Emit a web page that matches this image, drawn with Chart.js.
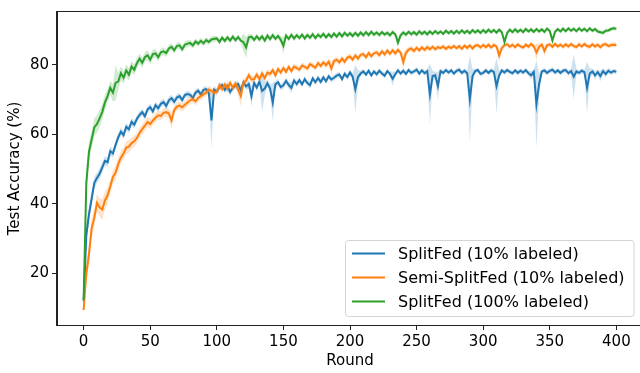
<!DOCTYPE html>
<html>
<head>
<meta charset="utf-8">
<script src="https://cdn.jsdelivr.net/npm/chart.js@4"></script>
<style>
  body { margin: 0; background: #fff; }
  #wrap { width: 640px; height: 373px; overflow: hidden; position: relative; }
</style>
</head>
<body>
<div id="wrap"><canvas id="accChart" width="648" height="373"></canvas></div>
<script>
// rounds sampled every 2
var rounds = [];
for (i = 0; i <= 400; i += 2) {
  rounds.push(i);
}

const xTicks = [0, 50, 100, 150, 200, 250, 300, 350, 400];
const yTicks = [20, 40, 60, 80];

const seriesNames = ["SplitFed (10% labeled)", "Semi-SplitFed (10% labeled)", "SplitFed (100% labeled)"];

// SplitFed (10% labeled) mean accuracy
const splitFed10 = [
  12, 31, 37, 41.5, 46, 47.5, 48.7, 50.5, 52.4, 52,
  55.2, 54.5, 57, 59.2, 60.8, 59.8, 62.2, 61.5, 63.6, 62.8,
  64.5, 65.6, 66.4, 65.2, 67.2, 67.8, 66.6, 68.4, 67.5, 68.8,
  69.3, 68.2, 69.8, 70.4, 69.4, 70.6, 71, 69.9, 71.3, 71.6,
  71.4, 70.5, 72, 72.6, 71.5, 72.8, 73, 71.9, 64, 72.9,
  72.3, 73.6, 74.2, 72.8, 73.9, 72.2, 73.4, 74, 74.5, 72.6,
  75, 73.8, 74.5, 71, 74.8, 73.5, 75.2, 72.5, 73.2, 74.7,
  73.2, 69.2, 74.4, 75, 73.6, 74.1, 75.4, 74.2, 73.4, 75.5,
  74.5, 75.6, 74.4, 75.9, 74.8, 74.2, 76.1, 75, 76.2, 75.1,
  76.4, 75.3, 76.7, 75.8, 76.3, 76.9, 77.2, 75.9, 77.4, 76.5,
  77.8, 76.6, 73, 76.5, 77.5, 78.1, 77.2, 78.3, 77, 78.1,
  77.3, 78.3, 77.5, 76.9, 78.2, 77.4, 76, 77.3, 78.4, 77.5,
  78.3, 77.4, 78.5, 77.7, 78.1, 78.6, 77.5, 78.4, 77.6, 78.2,
  71.5, 76.8, 77, 73.9, 78.2, 77.7, 78.5, 77.8, 78.4, 77.5,
  78.3, 78.6, 77.7, 78.3, 77.6, 70.1, 76.8, 78.2, 78.5, 77.4,
  77.7, 78.4, 77.7, 78.4, 78, 73.9, 77, 78.4, 77.8, 78.5,
  78, 77.6, 78.4, 77.7, 78.3, 77.8, 78.5, 77.6, 77, 78,
  68.7, 74.5, 78.1, 78.4, 77.7, 78.3, 78.6, 77.8, 78.4, 77.7,
  78.3, 78.5, 77.6, 78.2, 76.6, 78.1, 77.7, 78.3, 77.9, 73.4,
  77.5, 78.1, 77, 77.9, 76.8, 78.2, 77.4, 78.3, 77.8, 78.2,
  78
];
const splitFed10Std = [
  1.5, 2.5, 2, 2, 1.8, 1.5, 1.5, 1.5, 1.3, 1.3,
  1.3, 1.2, 1.2, 1.2, 1.2, 1.2, 1.1, 1.1, 1.1, 1.1,
  1, 1, 1, 1, 1, 1, 1, 1, 1, 1,
  1, 1, 1, 1, 1, 1, 0.9, 0.9, 0.9, 0.9,
  0.9, 0.9, 0.9, 0.9, 0.9, 0.9, 0.9, 0.9, 8, 1,
  1, 1, 0.9, 0.9, 1.5, 1, 0.9, 1, 0.9, 1.5,
  0.9, 1, 1.2, 3, 1, 1, 0.9, 6, 2, 1,
  1.2, 5.5, 1, 0.9, 0.9, 1, 0.9, 1, 1.5, 0.9,
  0.9, 0.8, 0.8, 0.8, 0.8, 1, 0.8, 0.8, 0.8, 0.8,
  0.8, 0.8, 0.8, 0.8, 0.8, 0.8, 0.8, 0.8, 0.8, 0.8,
  0.8, 1, 7, 2, 0.8, 0.7, 0.7, 0.7, 0.7, 0.7,
  0.7, 0.7, 0.7, 0.8, 0.7, 0.7, 2, 0.8, 0.7, 0.7,
  0.7, 0.7, 0.7, 0.7, 0.7, 0.7, 0.7, 0.7, 0.7, 0.7,
  8.8, 1.5, 1, 4, 0.8, 0.7, 0.7, 0.7, 0.7, 0.7,
  0.7, 0.7, 0.7, 0.7, 0.8, 12.5, 2, 0.7, 0.7, 0.7,
  0.7, 0.7, 0.7, 0.7, 0.7, 8, 1.5, 0.7, 0.7, 0.7,
  0.7, 0.7, 0.7, 0.7, 0.7, 0.7, 0.7, 0.7, 1.2, 0.7,
  12.5, 3, 0.7, 0.7, 0.7, 0.7, 0.7, 0.7, 0.7, 0.7,
  0.7, 0.7, 0.7, 0.7, 6.4, 0.8, 0.7, 0.7, 0.7, 7.4,
  1.5, 0.8, 1.2, 0.8, 1.5, 0.8, 1, 0.8, 0.7, 0.7,
  0.7
];

// Semi-SplitFed (10% labeled)
const semiSplitFed10 = [
  9.5, 20, 25.5, 33, 36, 40.3, 39, 38.4, 41, 42.5,
  45, 47.8, 49, 51.5, 53.4, 54.5, 56.2, 56.5, 57.5, 58,
  59, 60.4, 61.5, 62.5, 63.6, 63, 64, 64.8, 65.5, 65.3,
  66.2, 66.4, 66, 64, 67, 68, 68.3, 67.8, 68.5, 69.2,
  69.8, 70.1, 69.5, 70.5, 71, 71.5, 72, 72.9, 72.5, 72,
  72.2, 74.2, 73, 74.4, 73.2, 74.8, 73.5, 74.6, 72.8, 71,
  74.8, 75.5, 77, 75.8, 75.9, 77.2, 75.9, 77.5, 76.2, 77.8,
  77.4, 78.5, 77, 78.8, 77.8, 79.1, 78, 79.4, 78.2, 79.5,
  79.1, 78.6, 79.8, 79.4, 79, 80.2, 79.7, 79.2, 80.5, 79.7,
  80.7, 79.9, 80.9, 79, 81.1, 81.5, 80.7, 81.8, 80.9, 82.1,
  82.4, 81.5, 82.7, 81.8, 82.9, 83.1, 82.2, 83.4, 82.5, 83.3,
  83.6, 82.8, 83.9, 83, 84.1, 83.2, 84.2, 83.3, 84.3, 83.5,
  80.8, 83.4, 84.4, 84.7, 84, 84.9, 84.2, 85, 84.3, 85.1,
  84.5, 85.2, 84.5, 85.1, 84.8, 85.3, 84.6, 85.2, 84.8, 85.4,
  84.8, 85.4, 84.6, 85.5, 84.9, 85.6, 84.7, 85.5, 85.7, 85,
  85.7, 85.1, 85.8, 85, 85.7, 85.3, 82.7, 84.8, 85.7, 85.9,
  85.2, 85.8, 85.1, 85.9, 85.3, 85, 85.8, 85.2, 86, 85.3,
  83.6, 85.2, 85.8, 84, 85.6, 85.9, 85.2, 86, 85.3, 85.8,
  85.2, 85.9, 85.3, 86, 85.4, 85.1, 85.9, 85.3, 86, 85.4,
  85.2, 85.9, 85.3, 85.8, 85.1, 85.8, 86, 85.4, 85.7, 85.8,
  85.7
];
const semiSplitFed10Std = [
  1, 3, 3, 3, 2.5, 2.5, 2.5, 3, 2.5, 2.2,
  2, 2, 2, 2, 1.8, 1.8, 1.8, 1.8, 1.6, 1.6,
  1.5, 1.5, 1.5, 1.5, 1.5, 1.4, 1.4, 1.4, 1.3, 1.3,
  1.3, 1.3, 1.3, 2.5, 1.2, 1.2, 1.2, 1.2, 1.2, 1.2,
  1.1, 1.1, 1.1, 1.1, 1.1, 1.1, 1, 1, 1, 1,
  1, 1, 1, 1, 1, 1, 1, 1, 1.5, 3,
  1.2, 1, 1, 1, 1, 1, 1, 1, 1, 1,
  0.9, 0.9, 0.9, 0.9, 0.9, 0.9, 0.9, 0.9, 0.9, 0.9,
  0.9, 0.9, 0.9, 0.9, 0.9, 0.9, 0.9, 0.9, 0.9, 0.9,
  0.9, 0.9, 0.9, 2, 0.9, 0.9, 0.9, 0.9, 0.9, 0.9,
  0.8, 0.8, 0.8, 0.8, 0.8, 0.8, 0.8, 0.8, 0.8, 0.8,
  0.8, 0.8, 0.8, 0.8, 0.8, 0.8, 0.8, 0.8, 0.8, 0.8,
  2.5, 1.2, 0.8, 0.8, 0.8, 0.8, 0.8, 0.8, 0.8, 0.8,
  0.7, 0.7, 0.7, 0.7, 0.7, 0.7, 0.7, 0.7, 0.7, 0.7,
  0.7, 0.7, 0.7, 0.7, 0.7, 0.7, 0.7, 0.7, 0.7, 0.7,
  0.7, 0.7, 0.7, 0.7, 0.7, 0.7, 2, 1, 0.7, 0.7,
  0.7, 0.7, 0.7, 0.7, 0.7, 0.7, 0.7, 0.7, 0.7, 0.7,
  2.5, 1, 0.7, 1.5, 0.7, 0.7, 0.7, 0.7, 0.7, 0.7,
  0.7, 0.7, 0.7, 0.7, 0.7, 0.7, 0.7, 0.7, 0.7, 0.7,
  0.7, 0.7, 0.7, 0.7, 0.7, 0.7, 0.7, 0.7, 0.7, 0.7,
  0.7
];

// SplitFed (100% labeled)
const splitFed100 = [
  12.4, 46, 55, 58.5, 62, 63, 64.6, 66.5, 69.2, 71,
  73.4, 72, 74.8, 75.2, 77.6, 76.3, 78.4, 77.2, 79.5, 78.6,
  80.5, 81.8, 80.6, 82.2, 82.8, 81.5, 83.1, 83.3, 82.2, 83.6,
  83.9, 83.4, 84.7, 85.2, 84.2, 85.4, 85.6, 84.5, 85.8, 86.1,
  86.3, 85.6, 86.7, 86.1, 86.9, 86.2, 87.1, 86.6, 87.3, 87.5,
  87.6, 86.6, 87.8, 86.9, 87.9, 87, 88.1, 87.1, 88, 87,
  86.5, 85, 87.9, 88.1, 87.2, 88.2, 87.3, 88.2, 87, 88.4,
  87.4, 88.5, 87.5, 88.3, 87.2, 85.5, 88.4, 87.5, 88.6, 87.6,
  88.5, 87.7, 88.7, 87.6, 88.6, 87.8, 88.8, 87.7, 88.7, 88,
  88.9, 87.9, 88.8, 88, 89, 88.1, 89.1, 88.2, 89.2, 88.4,
  89.1, 88.3, 89.2, 88.4, 89.3, 88.5, 89.4, 88.6, 89.5, 88.7,
  89.3, 88.6, 89.4, 88.7, 89.2, 88.5, 89.4, 88.8, 86.4, 88.5,
  89.3, 88.7, 89.5, 88.8, 89.4, 88.7, 89.6, 88.9, 89.5, 88.8,
  89.6, 88.9, 89.7, 89, 89.6, 88.9, 89.8, 89.1, 89.7, 89,
  89.8, 89.1, 89.9, 89.2, 89.8, 89.1, 90, 89.3, 89.9, 89.2,
  90, 89.3, 90.1, 89.4, 90, 89.3, 90.1, 89.4, 86.6, 89.2,
  90.1, 89.4, 90.2, 89.5, 90.1, 89.4, 90.3, 89.6, 90.2, 89.5,
  90.3, 89.6, 90.2, 89.5, 90.4, 89.7, 87, 89.5, 90.3, 89.6,
  90.4, 89.7, 90.5, 89.8, 90.4, 89.7, 90.5, 89.8, 90.4, 89.7,
  90.5, 89.8, 90.3, 89.6, 89.4, 89.2, 89.8, 89.9, 90.3, 90.5,
  90.4
];
const splitFed100Std = [
  1, 4, 3, 2.5, 2.5, 2.5, 2.5, 2.2, 2.2, 2,
  2, 2.5, 5, 2.5, 2, 1.8, 1.8, 1.8, 1.6, 1.6,
  1.5, 1.5, 1.5, 1.4, 1.4, 1.3, 1.3, 1.2, 1.2, 1.2,
  1.1, 1.1, 1.1, 1, 1, 1, 1, 1, 1, 1,
  0.9, 0.9, 0.9, 0.9, 0.9, 0.9, 0.9, 0.9, 0.9, 0.9,
  0.8, 0.8, 0.8, 0.8, 0.8, 0.8, 0.8, 0.8, 0.8, 0.8,
  2.5, 3, 1, 0.8, 0.8, 0.8, 0.8, 0.8, 0.8, 0.8,
  0.8, 0.8, 0.8, 0.8, 1, 2.5, 0.8, 0.8, 0.8, 0.8,
  0.7, 0.7, 0.7, 0.7, 0.7, 0.7, 0.7, 0.7, 0.7, 0.7,
  0.7, 0.7, 0.7, 0.7, 0.7, 0.7, 0.7, 0.7, 0.7, 0.7,
  0.7, 0.7, 0.7, 0.7, 0.7, 0.7, 0.7, 0.7, 0.7, 0.7,
  0.7, 0.7, 0.7, 0.7, 0.7, 0.7, 0.7, 0.7, 1.5, 0.7,
  0.7, 0.7, 0.7, 0.7, 0.7, 0.7, 0.7, 0.7, 0.7, 0.7,
  0.6, 0.6, 0.6, 0.6, 0.6, 0.6, 0.6, 0.6, 0.6, 0.6,
  0.6, 0.6, 0.6, 0.6, 0.6, 0.6, 0.6, 0.6, 0.6, 0.6,
  0.6, 0.6, 0.6, 0.6, 0.6, 0.6, 0.6, 0.6, 1.2, 0.7,
  0.6, 0.6, 0.6, 0.6, 0.6, 0.6, 0.6, 0.6, 0.6, 0.6,
  0.6, 0.6, 0.6, 0.6, 0.6, 0.6, 1.2, 0.6, 0.6, 0.6,
  0.6, 0.6, 0.6, 0.6, 0.6, 0.6, 0.6, 0.6, 0.6, 0.6,
  0.6, 0.6, 0.6, 0.6, 0.6, 0.6, 0.6, 0.6, 0.6, 0.6,
  0.6
];

const colors = [
  ["#1f77b4", "rgba(31, 119, 180, 0.22)"],
  ["#ff7f0e", "rgba(255, 127, 14, 0.22)"],
  ["#2ca02c", "rgba(44, 160, 44, 0.22)"],
];

function points(values) {
  return rounds.map((r, i) => ({ x: r, y: values[i] }));
}

function bandDatasets(mean, std, idx) {
  const lower = mean.map((v, i) => v - std[i]);
  const upper = mean.map((v, i) => v + std[i]);
  const base = 9 - idx * 3;
  return [
    { data: points(lower), borderWidth: 0, pointRadius: 0, fill: false, order: base - 1 },
    { data: points(upper), borderWidth: 0, pointRadius: 0, fill: "-1", backgroundColor: colors[idx][1], order: base - 2 },
    {
      label: seriesNames[idx],
      legend: true,
      data: points(mean),
      borderColor: colors[idx][0],
      borderWidth: 2,
      pointRadius: 0,
      fill: false,
      order: base - 3,
    },
  ];
}

const datasets = [].concat(
  bandDatasets(splitFed10, splitFed10Std, 0),
  bandDatasets(semiSplitFed10, semiSplitFed10Std, 1),
  bandDatasets(splitFed100, splitFed100Std, 2)
);

// matplotlib style frame + legend
const framePlugin = {
  id: "frame",
  afterDraw(chart) {
    const ctx = chart.ctx;
    const a = chart.chartArea;
    ctx.save();
    ctx.strokeStyle = "#222";
    ctx.lineWidth = 1;
    ctx.strokeRect(Math.round(a.left) - 0.5, Math.round(a.top) - 0.5, Math.round(a.right - a.left) + 1, Math.round(a.bottom - a.top) + 1);

    const items = chart.data.datasets.filter((d) => d.legend);
    const bx = 345.5, by = 240.5, bw = 288.5, bh = 76;
    ctx.fillStyle = "rgba(255,255,255,0.8)";
    ctx.strokeStyle = "#d4d4d4";
    ctx.beginPath();
    ctx.roundRect(bx, by, bw, bh, 3);
    ctx.fill();
    ctx.stroke();
    ctx.font = '16px "DejaVu Sans"';
    ctx.textBaseline = "middle";
    items.forEach((d, i) => {
      const y = 253.5 + i * 24;
      ctx.strokeStyle = d.borderColor;
      ctx.lineWidth = 2;
      ctx.beginPath();
      ctx.moveTo(352, y);
      ctx.lineTo(385, y);
      ctx.stroke();
      ctx.fillStyle = "#000";
      ctx.fillText(d.label, 398, y + 1);
    });
    ctx.restore();
  },
};

Chart.defaults.font.family = '"DejaVu Sans", sans-serif';
Chart.defaults.font.size = 15;
Chart.defaults.color = "#000";

const chart = new Chart(document.getElementById("accChart"), {
  type: "line",
  data: { datasets: datasets },
  options: {
    responsive: false,
    animation: false,
    devicePixelRatio: 1,
    layout: { padding: { top: 4, right: 5, left: 0, bottom: 0 } },
    plugins: { legend: { display: false }, tooltip: { enabled: false } },
    scales: {
      x: {
        type: "linear",
        min: -20,
        max: 420,
        afterBuildTicks: (axis) => { axis.ticks = xTicks.map((v) => ({ value: v })); },
        afterFit: (axis) => { axis.height = 48; },
        ticks: { maxRotation: 0, autoSkip: false, padding: 3 },
        grid: { drawOnChartArea: false, tickLength: 5, tickColor: "#222" },
        border: { display: true, color: "#222" },
        title: { display: true, text: "Round", font: { size: 15 }, padding: { top: 0, bottom: 3 } },
      },
      y: {
        min: 5.2,
        max: 95.2,
        afterBuildTicks: (axis) => { axis.ticks = yTicks.map((v) => ({ value: v })); },
        afterFit: (axis) => { axis.width = 57; },
        ticks: { padding: 3 },
        grid: { drawOnChartArea: false, tickLength: 5, tickColor: "#222" },
        border: { display: true, color: "#222" },
        title: { display: true, text: "Test Accuracy (%)", font: { size: 15 }, padding: { top: 6, bottom: 0 } },
      },
    },
  },
  plugins: [framePlugin],
});
</script>
</body>
</html>
